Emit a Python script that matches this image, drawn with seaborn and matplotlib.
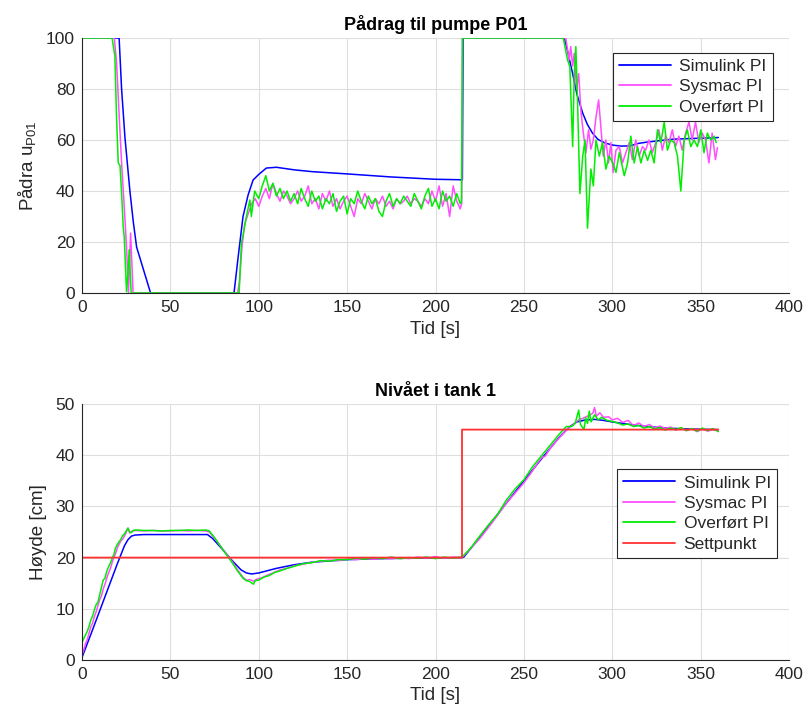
import numpy as np
import pandas as pd
import matplotlib
matplotlib.use("Agg")
import matplotlib.pyplot as plt
import seaborn as sns

# ---------------- data: top plot (Pådrag til pumpe P01) ----------------
sim_u_t = [0, 21, 22.4, 24.3, 27.1, 29, 30.9, 38.8, 86, 88.5, 91.1, 94, 96.8, 100, 104.3, 110, 120, 130,
           150, 175, 200, 215.2, 215.6, 272.9, 275, 277.6, 280, 283.3, 286, 288.9, 292, 296, 300.2, 305,
           310, 315, 320, 334, 345, 358.5, 360]
sim_u = [100, 100, 80, 61, 40, 28, 18, 0, 0, 15, 30, 38.5, 44.3, 46.5, 49, 49.3, 48.3, 47.6,
         46.7, 45.5, 44.6, 44.4, 100, 100, 94, 86, 78, 70.5, 66, 62.6, 60.2, 58.8, 58, 57.6,
         57.7, 58.7, 59.2, 60.3, 60.6, 60.9, 61]

sys_u_t = [0, 18.3, 19.6, 21, 22.4, 23.8, 25.2, 26.3, 27.5, 28.9, 88.0, 89, 90.5, 92, 94, 96, 98,
           100, 102, 104, 106, 108, 110, 112, 114, 116, 118, 120, 122, 124, 126, 128, 130, 132, 134,
           136, 138, 140, 142, 144, 146, 148, 150, 152, 154, 156, 158, 160, 162, 164, 166, 168, 170,
           172, 174, 176, 178, 180, 182, 184, 186, 188, 190, 192, 194, 196, 198, 200, 202, 204, 206,
           208, 210, 212, 214, 214.8, 215.3, 273.7, 275.6, 276.5, 277.6, 278.5, 279.8, 281, 282.3,
           283.6, 285.1, 286.6, 287.9, 289.3, 290.8, 292.3, 293.6, 294.9, 296.4, 297.9, 299.2, 300.5,
           302.1, 304, 305.8, 307.7, 309.6, 311.4, 313.3, 315.2, 317.1, 318.9, 320.8, 322.7, 324.6,
           326.4, 328.3, 330.2, 332.1, 334, 335.8, 337.7, 339.6, 341.5, 343.4, 345.2, 347.1, 349,
           350.9, 352.8, 354.7, 356.5, 358.4, 359.5]
sys_u = [100, 100, 90, 70, 51, 35, 18, 0, 23.5, 0, 0, 4, 18, 27, 31, 35, 37,
         34, 38, 41, 37, 43, 39, 36, 40, 38, 35, 37, 40, 36, 38, 42, 35, 37, 33,
         39, 36, 40, 34, 37, 33, 36, 38, 34, 30, 37, 35, 39, 36, 33, 37, 35, 38,
         34, 36, 33, 37, 35, 36, 38, 35, 37, 36, 34, 37, 35, 40, 36, 42, 34, 39,
         30, 42, 36, 33, 35, 100, 100, 91.4, 96.6, 89, 94, 80, 86, 71,
         63, 55, 64, 56.4, 60, 69, 75.7, 64.6, 53.7, 60, 51, 59, 47.3,
         56, 57.4, 51, 55, 59, 52.3, 60, 53.7, 57.4, 56, 60, 55, 59,
         64, 56, 61.5, 59, 64, 57.4, 61.5, 56, 62.7, 67, 60, 67, 59,
         62.7, 60, 51, 62.7, 52.3, 57]

ovf_u_t = [0, 17, 18.6, 19.5, 20.5, 21.5, 22.5, 23.3, 23.9, 24.5, 25.2, 26.0, 26.7, 27.8, 88.9, 90.2,
           91.5, 93, 95, 95.8, 97.7,
           100, 102, 104, 106, 108, 110, 112, 114, 116, 118, 120, 122, 124, 126, 128, 130, 132, 134,
           136, 138, 140, 142, 144, 146, 148, 150, 152, 154, 156, 158, 160, 162, 164, 166, 168, 170,
           172, 174, 176, 178, 180, 182, 184, 186, 188, 190, 192, 194, 196, 198, 200, 202, 204, 206,
           208, 210, 212, 214, 214.7, 215.2, 272.3, 274.7, 276, 277.6, 278.5, 279.4, 280.4, 281.7,
           283.3, 284.6, 286, 287.9, 289.3, 290.8, 292.7, 294.5, 296.4, 298.3, 300.2, 302.1, 304,
           306.8, 308.7, 310.5, 312.4, 314.3, 316.2, 318.1, 320, 321.8, 323.7, 325.6, 327.5, 329.4,
           331.2, 333.1, 335, 336.9, 338.8, 340.7, 342.5, 344.4, 346.3, 348.2, 350.1, 351.9, 353.8,
           355.7, 357.6, 358.8]
ovf_u = [100, 100, 93, 70, 51, 50, 38, 26, 22, 12, 0.5, 8, 17, 0, 0, 19.5,
         24, 30, 36.5, 30, 40,
         37, 42, 46, 40, 43, 38, 41, 37, 40, 36, 39, 35, 41, 37, 34, 40, 36, 38,
         33, 37, 35, 39, 32, 36, 38, 31, 37, 35, 40, 36, 33, 38, 35, 37, 32, 30,
         36, 39, 34, 37, 35, 38, 36, 34, 39, 36, 33, 38, 41, 34, 37, 33, 40, 36,
         38, 34, 39, 35, 36, 100, 100, 91.4, 88.8, 57.4, 86, 96.6, 74.5, 39,
         53.7, 60, 25.4, 48.6, 42, 60, 53.7, 59, 48.6, 53.7, 51, 47.3, 55,
         46, 51, 61.5, 51, 57.4, 51, 56, 52, 56, 51, 64, 59, 67,
         56, 60, 59, 53.7, 40, 60, 64, 57.4, 60, 57.4, 64, 55, 62.7,
         60, 61.5, 59]

# ---------------- data: bottom plot (Nivået i tank 1) ----------------
sim_h_t = [0, 2, 5, 10, 15, 20, 24, 26, 28, 30, 35, 71, 74, 80, 85, 90, 93, 96, 100, 110, 120, 130,
           150, 170, 190, 215, 216, 220, 230, 240, 250, 260, 270, 276, 280, 285, 290, 295, 300, 310,
           320, 330, 345, 360]
sim_h = [0.5, 2.3, 5.0, 9.6, 14.2, 18.8, 22.3, 23.5, 24.2, 24.4, 24.5, 24.5, 23.7, 21.4, 19.4, 17.6,
         17.0, 16.8, 17.0, 17.9, 18.6, 19.1, 19.6, 19.8, 19.9, 20.0, 20.1, 21.8, 26.2, 30.6, 35.0,
         39.3, 43.5, 45.6, 46.5, 46.9, 47.0, 46.8, 46.5, 46.0, 45.6, 45.3, 45.1, 45.0]

sys_h_t = [0, 1, 2, 3, 4, 5, 6, 7, 8, 9, 10, 11, 12, 13, 14, 15, 16, 17, 18, 19, 20, 21, 22, 23, 24,
           25, 26, 27, 28, 29, 30, 35, 40, 45, 50, 55, 60, 65, 70, 72, 75, 80, 85, 88, 91, 93, 95, 97,
           99, 102, 105, 108, 112, 116, 120, 125, 130, 135, 140, 145, 150, 155, 160, 165, 170, 175,
           180, 185, 190, 195, 200, 205, 210, 215, 220, 225, 230, 235, 240, 245, 250, 255, 258, 260,
           262, 265, 270, 275, 278, 281, 284, 287, 289, 290, 291, 293, 295, 298, 300, 303, 306, 309,
           312, 315, 318, 321, 324, 327, 330, 333, 336, 339, 342, 345, 348, 351, 354, 357, 360]
sys_h = [1.0, 2.0, 3.2, 4.0, 5.3, 6.5, 7.2, 8.5, 9.4, 10.6, 11.8, 12.5, 13.9, 14.8, 16.0, 17.0, 17.8,
         19.0, 20.0, 20.8, 21.9, 22.6, 23.3, 23.6, 24.2, 24.9, 25.8, 24.8, 25.1, 25.2, 25.3, 25.2,
         25.3, 25.2, 25.2, 25.3, 25.2, 25.3, 25.2, 25.0, 23.8, 21.5, 19.2, 17.6, 16.2, 15.6, 15.7,
         15.4, 15.8, 16.1, 16.6, 17.0, 17.6, 17.9, 18.4, 18.7, 19.1, 19.3, 19.5, 19.4, 19.7, 19.6,
         19.8, 19.7, 19.9, 19.8, 20.0, 19.8, 20.1, 19.9, 20.2, 19.9, 20.1, 20.0, 21.8, 23.7, 25.9,
         28.2, 30.6, 32.6, 34.6, 37.0, 38.6, 39.5, 39.8, 41.4, 43.4, 45.2, 46.0, 46.9, 47.3, 47.8,
         48.2, 49.3, 47.6, 48.3, 47.4, 47.5, 46.9, 47.2, 46.4, 46.8, 45.8, 46.3, 45.6, 46.0, 45.3,
         45.7, 45.2, 45.5, 44.9, 45.3, 44.8, 45.2, 44.6, 45.1, 44.7, 45.0, 44.8]

ovf_h_t = [0, 1, 2, 3, 4, 5, 6, 7, 8, 9, 10, 11, 12, 13, 14, 15, 16, 17, 18, 19, 20, 21, 22, 23, 24,
           25, 26, 27, 28, 29, 30, 35, 40, 45, 50, 55, 60, 65, 70, 72, 75, 80, 85, 88, 91, 93, 95, 97,
           98, 100, 103, 106, 109, 112, 116, 120, 125, 130, 135, 140, 145, 150, 155, 160, 165, 170,
           175, 180, 185, 190, 195, 200, 205, 210, 215, 220, 225, 230, 235, 240, 245, 250, 255, 260,
           265, 270, 274, 277, 279, 281, 282, 284, 285, 286, 287, 288, 290, 292, 294, 297, 300, 303,
           306, 309, 312, 315, 318, 321, 324, 327, 330, 333, 336, 339, 342, 345, 348, 351, 354, 357,
           360]
ovf_h = [3.4, 4.2, 4.9, 5.6, 6.6, 7.8, 8.6, 9.8, 10.8, 11.3, 12.7, 14.2, 15.6, 16.0, 17.3, 18.2,
         18.9, 19.8, 20.6, 21.9, 22.6, 23.1, 23.6, 24.3, 24.6, 25.2, 25.7, 25.0, 24.9, 25.3, 25.4,
         25.3, 25.3, 25.2, 25.3, 25.3, 25.4, 25.3, 25.4, 25.2, 23.9, 21.4, 19.0, 17.4, 16.0, 15.5,
         15.3, 14.8, 15.5, 15.6, 16.2, 16.5, 17.1, 17.4, 17.9, 18.3, 18.8, 19.0, 19.4, 19.3, 19.6,
         19.6, 19.9, 19.7, 20.0, 19.8, 20.1, 19.8, 20.0, 19.9, 20.1, 19.8, 20.1, 19.9, 20.1, 21.9,
         24.2, 26.4, 28.4, 31.2, 33.4, 35.2, 37.8, 39.9, 42.0, 44.1, 45.6, 45.6, 46.2, 48.8, 46.0,
         45.0, 47.3, 46.2, 48.6, 46.5, 47.9, 46.9, 47.4, 46.8, 46.6, 46.3, 45.9, 46.1, 45.6, 45.8,
         45.3, 45.6, 45.1, 45.4, 44.9, 45.3, 45.0, 45.4, 44.8, 45.2, 44.7, 45.3, 44.8, 45.2, 44.6]

sp_t = [0, 215, 215.01, 360]
sp_h = [20, 20, 45, 45]

labels = ["Simulink PI", "Sysmac PI", "Overført PI", "Settpunkt"]
colors = ["#0000FF", "#FF4DFF", "#00EE00", "#FF3030"]

for a, b in [(sim_u_t, sim_u), (sys_u_t, sys_u), (ovf_u_t, ovf_u), (sim_h_t, sim_h),
             (sys_h_t, sys_h), (ovf_h_t, ovf_h)]:
    assert len(a) == len(b), (len(a), len(b))

# ---------------- style ----------------
sns.set_style("white")
plt.rcParams["font.family"] = ["Liberation Sans", "DejaVu Sans"]
plt.rcParams["mathtext.default"] = "regular"
TXT = "#262626"

fig = plt.figure(figsize=(8.05, 7.13), dpi=100)
ax1 = fig.add_axes([82 / 805, 1 - 293 / 713, 707 / 805, 255 / 713])
ax2 = fig.add_axes([82 / 805, 1 - 660 / 713, 707 / 805, 256 / 713])


def style(ax):
    ax.set_xlim(0, 400)
    ax.grid(True, color="#DEDEDE", lw=0.8)
    ax.set_axisbelow(True)
    for s in ["top", "right"]:
        ax.spines[s].set_visible(False)
    for s in ["left", "bottom"]:
        ax.spines[s].set_color(TXT)
        ax.spines[s].set_linewidth(0.8)
    ax.tick_params(direction="in", length=5, width=0.8, colors=TXT, labelsize=12.5,
                   labelcolor=TXT, pad=5)
    ax.set_xticks([0, 50, 100, 150, 200, 250, 300, 350, 400])


def draw(ax, t, v, color, label, lw):
    df = pd.DataFrame({"t": t, "v": v})
    sns.lineplot(data=df, x="t", y="v", ax=ax, color=color, lw=lw, label=label,
                 estimator=None, sort=False)


draw(ax1, sim_u_t, sim_u, colors[0], labels[0], 1.1)
draw(ax1, sys_u_t, sys_u, colors[1], labels[1], 1.1)
draw(ax1, ovf_u_t, ovf_u, colors[2], labels[2], 1.1)
style(ax1)
ax1.set_ylim(0, 100)
ax1.set_yticks([0, 20, 40, 60, 80, 100])
ax1.set_title("Pådrag til pumpe P01", fontsize=13, fontweight="bold", color="black", pad=6)
ax1.set_xlabel("Tid [s]", fontsize=13.5, color=TXT, labelpad=4)
ax1.set_ylabel("Pådra u$_{P01}$", fontsize=13.5, color=TXT, labelpad=6)
ax1.legend(loc="upper right", bbox_to_anchor=(0.977, 0.942), borderaxespad=0, fontsize=12.5,
           frameon=True, fancybox=False, edgecolor=TXT, framealpha=1, handlelength=3.0,
           labelspacing=0.3, borderpad=0.35, handletextpad=0.5)

draw(ax2, sim_h_t, sim_h, colors[0], labels[0], 1.1)
draw(ax2, sys_h_t, sys_h, colors[1], labels[1], 1.1)
draw(ax2, ovf_h_t, ovf_h, colors[2], labels[2], 1.1)
draw(ax2, sp_t, sp_h, colors[3], labels[3], 1.3)
style(ax2)
ax2.set_ylim(0, 50)
ax2.set_yticks([0, 10, 20, 30, 40, 50])
ax2.set_title("Nivået i tank 1", fontsize=13, fontweight="bold", color="black", pad=6)
ax2.set_xlabel("Tid [s]", fontsize=13.5, color=TXT, labelpad=4)
ax2.set_ylabel("Høyde [cm]", fontsize=13.5, color=TXT, labelpad=6)
ax2.legend(loc="upper right", bbox_to_anchor=(0.983, 0.745), borderaxespad=0, fontsize=12.5,
           frameon=True, fancybox=False, edgecolor=TXT, framealpha=1, handlelength=3.0,
           labelspacing=0.3, borderpad=0.35, handletextpad=0.5)
for leg in [ax1.get_legend(), ax2.get_legend()]:
    leg.get_frame().set_linewidth(0.8)
    for line in leg.get_lines():
        line.set_linewidth(1.3)

fig.savefig("out.png", dpi=100)
